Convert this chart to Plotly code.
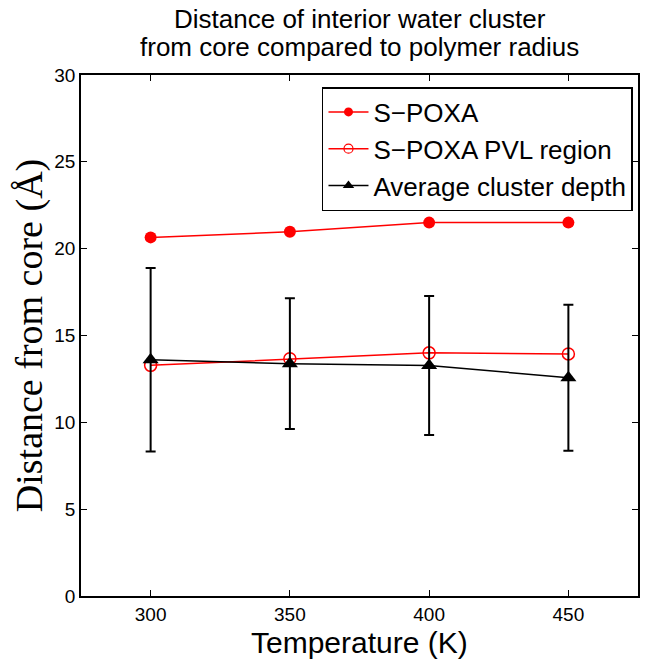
import plotly.graph_objects as go

temps = [300, 350, 400, 450]
spoxa = [20.65, 20.97, 21.5, 21.5]
spoxa_err = [0.0, 0.0, 0.2, 0.2]
pvl = [13.28, 13.66, 14.0, 13.94]
depth = [13.6, 13.38, 13.27, 12.57]
depth_err = [5.28, 3.77, 4.0, 4.2]

title_lines = ["Distance of interior water cluster", "from core compared to polymer radius"]
names = ["S\u2212POXA", "S\u2212POXA PVL region", "Average cluster depth"]
x_title = "Temperature (K)"
y_title = "Distance from core (\u00c5)"

T, B = 75, 65
PH = 661 - T - B

fig = go.Figure()
fig.add_trace(go.Scatter(x=temps, y=spoxa, name=names[0], mode="lines+markers", showlegend=False,
                         line=dict(color="red", width=1.5),
                         marker=dict(symbol="circle", size=12, color="red"),
                         error_y=dict(type="data", array=spoxa_err, color="red", thickness=1.5, width=4)))
fig.add_trace(go.Scatter(x=temps, y=pvl, name=names[1], mode="lines+markers", showlegend=False,
                         line=dict(color="red", width=1.5),
                         marker=dict(symbol="circle-open", size=12, color="red", line=dict(width=1.5))))
fig.add_trace(go.Scatter(x=temps, y=depth, name=names[2], mode="lines+markers", showlegend=False,
                         line=dict(color="black", width=1.5),
                         marker=dict(symbol="triangle-up", size=14, color="black"),
                         error_y=dict(type="data", array=depth_err, color="black", thickness=2, width=5)))

# legend entries with smaller symbols, as in the reference
fig.add_trace(go.Scatter(x=[None], y=[None], name=names[0], mode="lines+markers",
                         line=dict(color="red", width=1.5),
                         marker=dict(symbol="circle", size=9, color="red")))
fig.add_trace(go.Scatter(x=[None], y=[None], name=names[1], mode="lines+markers",
                         line=dict(color="red", width=1.5),
                         marker=dict(symbol="circle-open", size=9, color="red", line=dict(width=1.2))))
fig.add_trace(go.Scatter(x=[None], y=[None], name=names[2], mode="lines+markers",
                         line=dict(color="black", width=1.5),
                         marker=dict(symbol="triangle-up", size=10, color="black")))

axis_common = dict(showline=True, linecolor="black", linewidth=1.5, mirror="ticks",
                   ticks="inside", ticklen=6, tickcolor="black", showgrid=False, zeroline=False,
                   tickfont=dict(family="Liberation Sans, Arial", size=19, color="black"))

fig.update_layout(
    width=647, height=661,
    margin=dict(l=81, r=7, t=T, b=B),
    plot_bgcolor="white", paper_bgcolor="white",
    xaxis=dict(range=[275, 475], tickvals=temps, ticktext=[str(t) for t in temps],
               **axis_common),
    yaxis=dict(range=[0, 30], tickvals=[0, 5, 10, 15, 20, 25, 30],
               title=dict(text=y_title, standoff=0,
                          font=dict(family="Liberation Serif, DejaVu Serif", size=38, color="black")),
               **axis_common),
    legend=dict(x=0.991, xanchor="right", y=1 - 12 / PH, yanchor="top",
                bordercolor="black", borderwidth=1.5, bgcolor="white",
                font=dict(family="Liberation Sans, Arial", size=26, color="black"),
                itemwidth=40),
    showlegend=True,
    annotations=[
        dict(text=title_lines[0], xref="paper", yref="paper", x=0.5, y=1 + (T - 19) / PH,
             xanchor="center", yanchor="middle", showarrow=False,
             font=dict(family="Liberation Sans, Arial", size=26, color="black")),
        dict(text=title_lines[1], xref="paper", yref="paper", x=0.5, y=1 + (T - 47) / PH,
             xanchor="center", yanchor="middle", showarrow=False,
             font=dict(family="Liberation Sans, Arial", size=26, color="black")),
        dict(text=x_title, xref="paper", yref="paper", x=0.5, y=-(B - 1) / PH,
             xanchor="center", yanchor="bottom", showarrow=False, borderpad=0,
             font=dict(family="Liberation Sans, Arial", size=30, color="black")),
    ],
)

fig.write_html("out.html")
